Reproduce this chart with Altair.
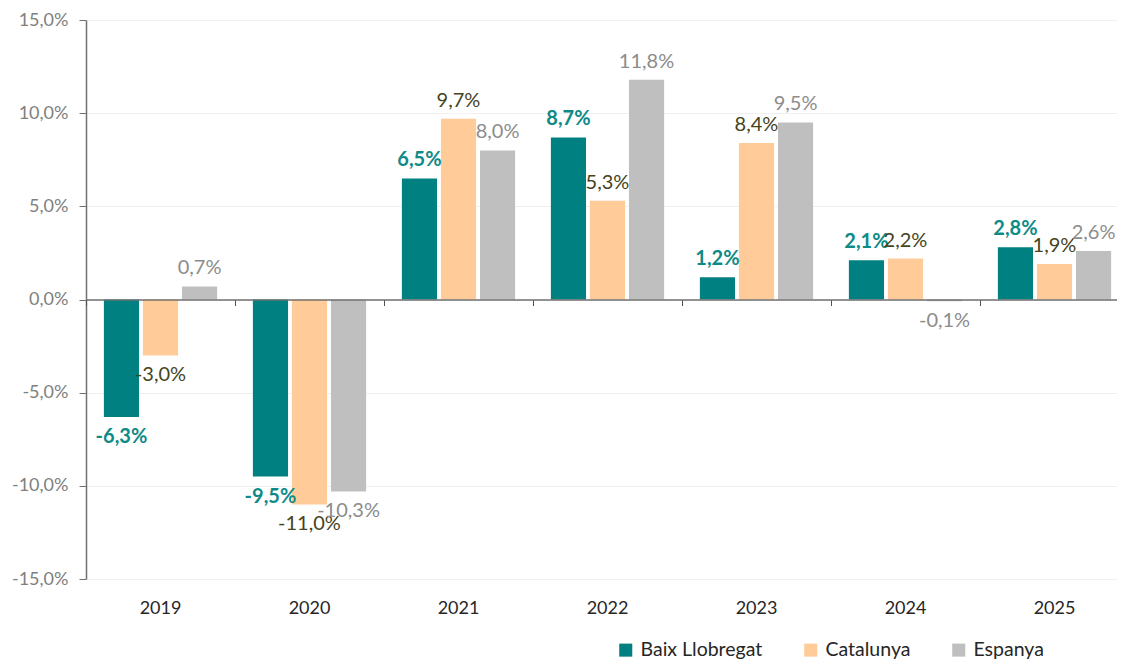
import altair as alt
import pandas as pd

years = ["2019", "2020", "2021", "2022", "2023", "2024", "2025"]
series = ["Baix Llobregat", "Catalunya", "Espanya"]
baix = [-6.3, -9.5, 6.5, 8.7, 1.2, 2.1, 2.8]
catalunya = [-3.0, -11.0, 9.7, 5.3, 8.4, 2.2, 1.9]
espanya = [0.7, -10.3, 8.0, 11.8, 9.5, -0.1, 2.6]
y_ticks = [-15, -10, -5, 0, 5, 10, 15]

bar_colors = ["#008080", "#FFCC99", "#BFBFBF"]
label_colors = ["#0E8A87", "#45441C", "#8C8C8C"]
label_weights = ["bold", "normal", "normal"]

rows = []
for s, vals in zip(series, [baix, catalunya, espanya]):
    for y, v in zip(years, vals):
        rows.append({"year": y, "series": s, "value": v})
df = pd.DataFrame(rows)

W, H = 1031, 559
PAD_L, PAD_T = 78, 12
FONT = "Lato"

# band layout: step of ~149px, with the plot continuing past the right edge
STEP = 149.0
PI = 0.24
po = (W / STEP - (len(years) - PI)) / 2
slack = W - STEP * (len(years) - PI)
align = (STEP * PI / 2) / slack

x_scale = alt.Scale(domain=years, paddingInner=PI, paddingOuter=po, align=align)
xo_scale = alt.Scale(domain=series, paddingInner=0.1, paddingOuter=0)
y_scale = alt.Scale(domain=[-15, 15], nice=False, zero=False)

label_expr = "(datum.value < 0 ? '-' : '') + replace(format(abs(datum.value), '.1f'), '.', ',') + '%'"

base = alt.Chart(df).transform_calculate(
    label="(datum.value < 0 ? '-' : '') + replace(format(abs(datum.value), '.1f'), '.', ',') + '%'"
)

x_axis = alt.Axis(orient="bottom", domain=False, ticks=False, labelAngle=0,
                  labelFont=FONT, labelFontSize=18, labelColor="#262626",
                  labelPadding=20, grid=False)
y_axis = alt.Axis(values=y_ticks, labelExpr=label_expr, labelFont=FONT,
                  labelFontSize=18, labelColor="#808080", labelPadding=11,
                  domain=True, domainColor="#707070", domainWidth=1.5,
                  ticks=True, tickColor="#707070", tickSize=7,
                  grid=True, gridColor="#F0F0F0", gridWidth=1)

bars = base.mark_bar().encode(
    x=alt.X("year:N", scale=x_scale, sort=years, title=None, axis=x_axis),
    xOffset=alt.XOffset("series:N", scale=xo_scale, sort=series),
    y=alt.Y("value:Q", scale=y_scale, title=None, axis=y_axis),
    color=alt.Color("series:N", scale=alt.Scale(domain=series, range=bar_colors),
                    sort=series, title=None,
                    legend=alt.Legend(orient="none", direction="horizontal",
                                      legendX=530, legendY=620,
                                      symbolType="square", symbolSize=170,
                                      symbolStrokeWidth=0, labelFont=FONT,
                                      labelFontSize=19.5, labelColor="#262626",
                                      labelOffset=5, columnPadding=38)),
)

texts = []
for s, c, w in zip(series, label_colors, label_weights):
    for sign in ["pos", "neg"]:
        cond = f"datum.series == '{s}' && datum.value " + (">= 0" if sign == "pos" else "< 0")
        t = base.transform_filter(cond).mark_text(
            font=FONT, fontSize=20, fontWeight=w, color=c,
            baseline="middle", dy=(-18 if sign == "pos" else 20)
        ).encode(
            x=alt.X("year:N", scale=x_scale, sort=years, title=None, axis=x_axis),
            xOffset=alt.XOffset("series:N", scale=xo_scale, sort=series),
            y=alt.Y("value:Q", scale=y_scale, title=None, axis=y_axis),
            text="label:N",
        )
        texts.append(t)

main = alt.layer(bars, *texts)

zero = alt.Chart(df).mark_rule(opacity=0).encode(
    x=alt.X("year:N", scale=x_scale, sort=years, title=None,
            axis=alt.Axis(orient="bottom", offset=-H / 2, labels=False, domain=True,
                          domainColor="#707070", domainWidth=1.5, ticks=True,
                          tickColor="#505050", tickSize=6, bandPosition=0,
                          tickOffset=-STEP * PI / 2, grid=False, zindex=1)),
)

chart = alt.layer(main, zero).resolve_axis(x="independent").properties(
    width=W, height=H,
    padding={"left": PAD_L, "top": PAD_T, "right": 0, "bottom": 656 - PAD_T - H},
    autosize=alt.AutoSizeParams(type="none"),
).configure(font=FONT, view=alt.ViewConfig(stroke=None))

chart.save("out.html", embed_options={"renderer": "svg", "actions": False})
